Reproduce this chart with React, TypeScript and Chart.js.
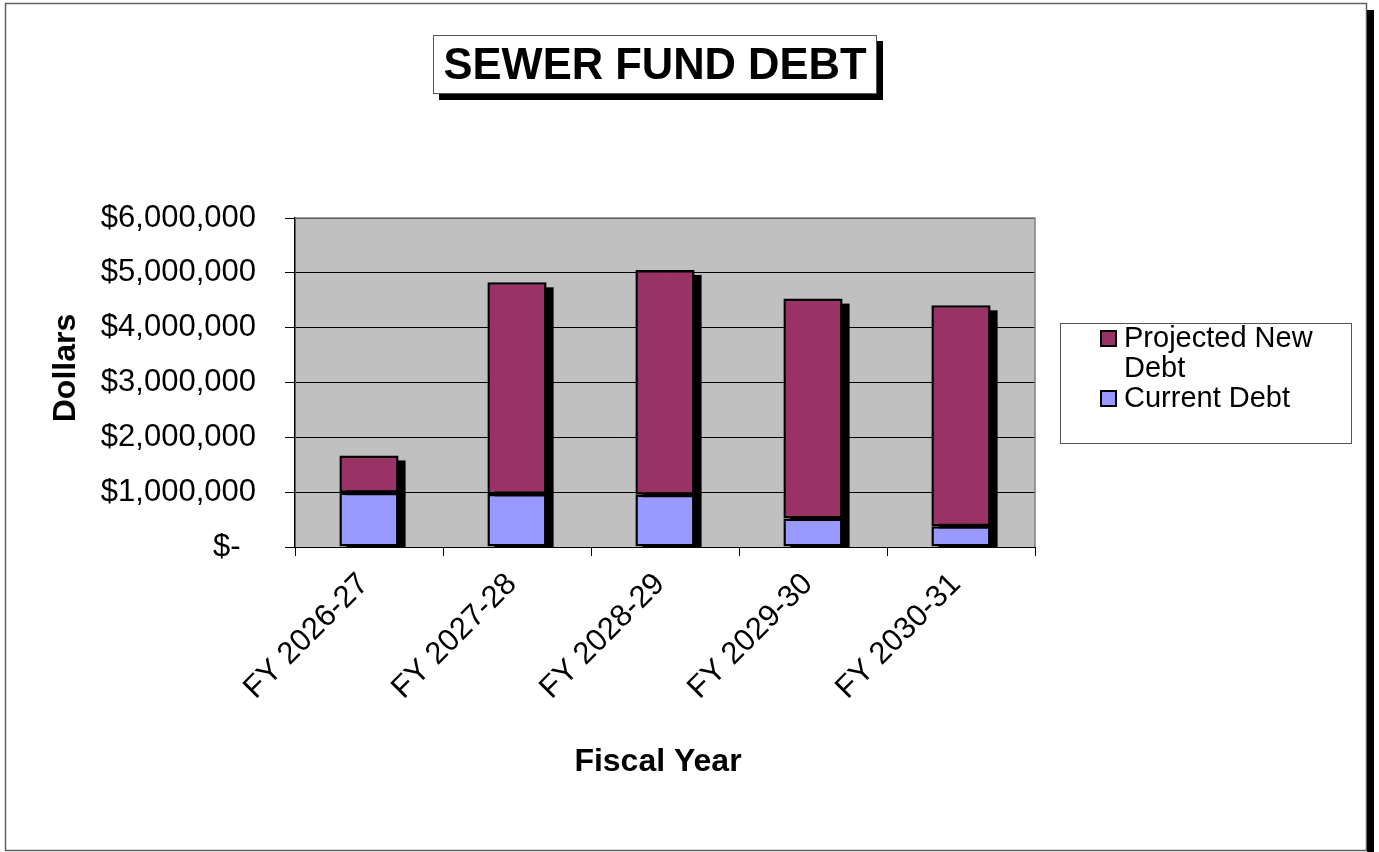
import React, { useEffect, useRef } from "react";
import { Chart, registerables } from "chart.js";

Chart.register(...registerables);

const TITLE = "SEWER FUND DEBT";
const X_TITLE = "Fiscal Year";
const Y_TITLE = "Dollars";
const categories = ["FY 2026-27", "FY 2027-28", "FY 2028-29", "FY 2029-30", "FY 2030-31"];
const currentDebt = [990000, 965000, 955000, 520000, 380000];
const projectedNewDebt = [680000, 3862000, 4098000, 4010000, 4028000];
const yTicks = [0, 1000000, 2000000, 3000000, 4000000, 5000000, 6000000];
const legendItems = [
  { lines: ["Projected New", "Debt"], color: "#993366" },
  { lines: ["Current Debt"], color: "#9999FF" },
];

const FONT = "'Liberation Sans', Arial, sans-serif";

const decorPlugin = {
  id: "decor",
  beforeDraw(chart: any) {
    const { ctx, chartArea: a } = chart;
    ctx.save();
    ctx.fillStyle = "#ffffff";
    ctx.fillRect(0, 0, chart.width, chart.height);
    // outer frame
    ctx.strokeStyle = "#606060";
    ctx.lineWidth = 1.5;
    ctx.strokeRect(5.5, 3.5, 1361, 847);
    ctx.fillStyle = "#000";
    ctx.fillRect(1367, 10, 7, 842);
    // plot background
    ctx.fillStyle = "#C0C0C0";
    ctx.fillRect(a.left, a.top, a.right - a.left, a.bottom - a.top);
    // title box
    ctx.fillStyle = "#000";
    ctx.fillRect(439, 41, 444, 59);
    ctx.fillStyle = "#fff";
    ctx.fillRect(433, 35, 444, 59);
    ctx.strokeStyle = "#555";
    ctx.lineWidth = 1;
    ctx.strokeRect(433.5, 35.5, 443, 58);
    ctx.fillStyle = "#000";
    ctx.font = `bold 43.5px ${FONT}`;
    ctx.textAlign = "center";
    ctx.textBaseline = "alphabetic";
    ctx.fillText(TITLE, 655, 79);
    // axis titles
    ctx.font = `bold 32px ${FONT}`;
    ctx.fillText(X_TITLE, 658, 771);
    ctx.translate(75, 368);
    ctx.rotate(-Math.PI / 2);
    ctx.fillText(Y_TITLE, 0, 0);
    ctx.restore();
  },
  beforeDatasetsDraw(chart: any) {
    const { ctx, chartArea: a } = chart;
    ctx.save();
    ctx.strokeStyle = "#808080";
    ctx.lineWidth = 1.5;
    ctx.beginPath();
    ctx.moveTo(a.left, a.top);
    ctx.lineTo(a.right, a.top);
    ctx.lineTo(a.right, a.bottom);
    ctx.stroke();
    const topMeta = chart.getDatasetMeta(chart.data.datasets.length - 1);
    ctx.fillStyle = "#000";
    topMeta.data.forEach((el: any) => {
      const p = el.getProps(["x", "y", "base", "width"], true);
      const left = p.x - p.width / 2;
      ctx.fillRect(left + 7, p.y + 5, p.width, a.bottom - (p.y + 5));
    });
    ctx.restore();
  },
  afterDraw(chart: any) {
    const { ctx } = chart;
    ctx.save();
    ctx.fillStyle = "#fff";
    ctx.fillRect(1060, 323, 292, 121);
    ctx.strokeStyle = "#555";
    ctx.lineWidth = 1;
    ctx.strokeRect(1060.5, 323.5, 291, 120);
    ctx.font = `29px ${FONT}`;
    ctx.textAlign = "left";
    ctx.textBaseline = "alphabetic";
    let baseline = 347;
    legendItems.forEach((it) => {
      ctx.fillStyle = it.color;
      ctx.fillRect(1101, baseline - 16, 15, 15);
      ctx.strokeStyle = "#000";
      ctx.lineWidth = 2;
      ctx.strokeRect(1101, baseline - 16, 15, 15);
      ctx.fillStyle = "#000";
      it.lines.forEach((ln) => {
        ctx.fillText(ln, 1124, baseline);
        baseline += 30;
      });
    });
    ctx.restore();
  },
};

export default function App() {
  const ref = useRef<HTMLCanvasElement>(null);
  useEffect(() => {
    if (!ref.current) return;
    Chart.defaults.font.family = FONT;
    Chart.defaults.color = "#000";
    const chart = new Chart(ref.current, {
      type: "bar",
      data: {
        labels: categories,
        datasets: [
          {
            label: "Current Debt",
            data: currentDebt,
            backgroundColor: "#9999FF",
            borderColor: "#000",
            borderWidth: 2.5,
            borderSkipped: false,
          },
          {
            label: "Projected New Debt",
            data: projectedNewDebt,
            backgroundColor: "#993366",
            borderColor: "#000",
            borderWidth: 2.5,
            borderSkipped: false,
          },
        ],
      },
      options: {
        responsive: false,
        animation: false,
        devicePixelRatio: 1,
        layout: { padding: { top: 218, left: 0, right: 344, bottom: 0 } },
        plugins: {
          legend: { display: false },
          title: { display: false },
          tooltip: { enabled: false },
        },
        datasets: { bar: { categoryPercentage: 1, barPercentage: 0.4 } },
        scales: {
          x: {
            stacked: true,
            grid: {
              offset: true,
              drawOnChartArea: false,
              drawTicks: true,
              tickLength: 9,
              color: "#000",
            },
            border: { display: true, color: "#000", width: 1 },
            ticks: {
              autoSkip: false,
              minRotation: 45,
              maxRotation: 45,
              padding: 10,
              labelOffset: -5,
              font: { size: 31 },
              color: "#000",
            },
            title: { display: false, text: X_TITLE },
            afterFit: (s: any) => {
              s.height = 305;
            },
          },
          y: {
            stacked: true,
            min: 0,
            max: 6000000,
            afterBuildTicks: (s: any) => {
              s.ticks = yTicks.map((v) => ({ value: v }));
            },
            grid: { color: "#000", tickLength: 10, lineWidth: 1 },
            border: { display: true, color: "#000", width: 1.5 },
            ticks: {
              padding: 29,
              font: { size: 31 },
              color: "#000",
              callback: (v: any) =>
                Number(v) === 0 ? "$-\u2002" : "$" + Number(v).toLocaleString("en-US"),
            },
            title: { display: false, text: Y_TITLE },
            afterFit: (s: any) => {
              s.width = 295;
            },
          },
        },
      },
      plugins: [decorPlugin],
    });
    return () => chart.destroy();
  }, []);
  return (
    <div style={{ position: "fixed", left: 0, top: 0, width: 1379, height: 852, background: "#fff" }}>
      <canvas ref={ref} width={1379} height={852} style={{ width: 1379, height: 852, display: "block" }} />
    </div>
  );
}
